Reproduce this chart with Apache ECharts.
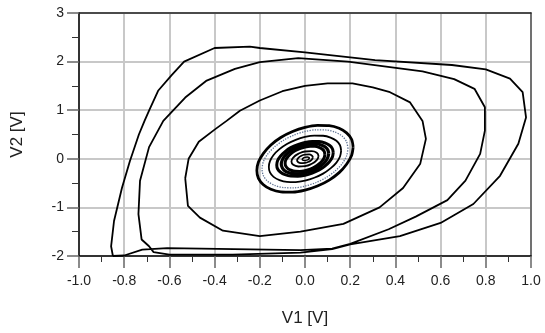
<!DOCTYPE html>
<html>
<head>
<meta charset="utf-8">
<script src="https://cdn.jsdelivr.net/npm/echarts@6/dist/echarts.min.js"></script>
<style>
  html,body{margin:0;padding:0;background:#fff;}
  #chart{width:545px;height:333px;}
</style>
</head>
<body>
<div id="chart"></div>
<script>
// tick labels
var xTicks = [-1.0,-0.8,-0.6,-0.4,-0.2,0.0,0.2,0.4,0.6,0.8,1.0]
var yTicks = [-2,-1,0,1,2,3]

// outer double loop
var outerLoop = [
  [-0.85,-2.0],[-0.858,-1.8],[-0.845,-1.28],[-0.81,-0.6],[-0.775,-0.05],[-0.735,0.5],
  [-0.71,0.78],[-0.69,0.99],[-0.65,1.4],[-0.59,1.72],[-0.535,2.0],[-0.4,2.28],
  [-0.244,2.31],[-0.2,2.28],[0.0,2.19],[0.31,2.03],[0.65,1.93],[0.8,1.84],
  [0.907,1.65],[0.963,1.37],[0.978,0.85],[0.944,0.31],[0.863,-0.35],[0.745,-0.93],
  [0.6,-1.32],[0.42,-1.59],[0.2,-1.76],[0.12,-1.86],[-0.02,-1.93],[-0.32,-1.97],
  [-0.6,-1.97],[-0.67,-1.92],[-0.69,-1.8],[-0.723,-1.66],[-0.737,-1.14],[-0.73,-0.45],
  [-0.69,0.24],[-0.627,0.78],[-0.53,1.26],[-0.435,1.61],[-0.31,1.85],[-0.2,1.99],
  [-0.03,2.07],[0.19,2.0],[0.52,1.8],[0.66,1.64],[0.75,1.44],[0.796,1.06],
  [0.796,0.58],[0.775,0.1],[0.71,-0.45],[0.63,-0.85],[0.49,-1.19],[0.37,-1.45],
  [0.2,-1.75],[0.12,-1.85],[-0.02,-1.88],[-0.17,-1.87],[-0.46,-1.85],[-0.61,-1.84],
  [-0.72,-1.87],[-0.8,-1.99],[-0.85,-2.0]
]

// third loop
var midLoop = [
  [-0.53,-0.4],[-0.515,0.0],[-0.47,0.35],[-0.4,0.6],[-0.347,0.78],[-0.288,0.99],
  [-0.2,1.2],[-0.1,1.39],[0.0,1.5],[0.1,1.55],[0.21,1.55],[0.3,1.47],[0.376,1.37],
  [0.465,1.16],[0.52,0.78],[0.535,0.41],[0.51,-0.1],[0.434,-0.6],[0.33,-1.0],
  [0.17,-1.34],[-0.02,-1.5],[-0.2,-1.59],[-0.363,-1.48],[-0.465,-1.21],[-0.518,-0.97],
  [-0.53,-0.4]
]

// inner rings
var ringA = [[0.213,0.243],[0.206,0.402],[0.184,0.533],[0.151,0.628],[0.107,0.681],[0.055,0.687],[0,0.646],[-0.055,0.561],[-0.107,0.438],[-0.151,0.285],[-0.184,0.112],[-0.206,-0.068],
  [-0.213,-0.243],[-0.206,-0.402],[-0.184,-0.533],[-0.151,-0.628],[-0.107,-0.681],[-0.055,-0.687],[0,-0.646],[0.055,-0.561],[0.107,-0.438],[0.151,-0.285],[0.184,-0.112],[0.206,0.068],[0.213,0.243]]
var ringDots = [[0.19,0.211],[0.184,0.349],[0.165,0.464],[0.134,0.547],[0.095,0.592],[0.049,0.597],[0,0.562],[-0.049,0.488],[-0.095,0.381],[-0.134,0.248],[-0.165,0.098],[-0.184,-0.059],
  [-0.19,-0.211],[-0.184,-0.349],[-0.165,-0.464],[-0.134,-0.547],[-0.095,-0.592],[-0.049,-0.597],[0,-0.562],[0.049,-0.488],[0.095,-0.381],[0.134,-0.248],[0.165,-0.098],[0.184,0.059],[0.19,0.211]]
var ringB = [[0.16,0.169],[0.155,0.279],[0.139,0.371],[0.113,0.437],[0.08,0.474],[0.041,0.478],[0,0.449],[-0.041,0.39],[-0.08,0.305],[-0.113,0.198],[-0.139,0.078],[-0.155,-0.047],
  [-0.16,-0.169],[-0.155,-0.279],[-0.139,-0.371],[-0.113,-0.437],[-0.08,-0.474],[-0.041,-0.478],[0,-0.449],[0.041,-0.39],[0.08,-0.305],[0.113,-0.198],[0.139,-0.078],[0.155,0.047],[0.16,0.169]]
var ringC = [[0.125,0.127],[0.121,0.21],[0.108,0.278],[0.088,0.327],[0.063,0.355],[0.032,0.358],[0,0.337],[-0.032,0.293],[-0.063,0.229],[-0.088,0.149],[-0.108,0.059],[-0.121,-0.035],
  [-0.125,-0.127],[-0.121,-0.21],[-0.108,-0.278],[-0.088,-0.327],[-0.063,-0.355],[-0.032,-0.358],[0,-0.337],[0.032,-0.293],[0.063,-0.229],[0.088,-0.149],[0.108,-0.059],[0.121,0.035],[0.125,0.127]]
var ringD = [[0.105,0.109],[0.101,0.181],[0.091,0.24],[0.074,0.281],[0.053,0.306],[0.027,0.308],[0,0.29],[-0.027,0.252],[-0.053,0.197],[-0.074,0.128],[-0.091,0.051],[-0.101,-0.03],
  [-0.105,-0.109],[-0.101,-0.181],[-0.091,-0.24],[-0.074,-0.281],[-0.053,-0.306],[-0.027,-0.308],[0,-0.29],[0.027,-0.252],[0.053,-0.197],[0.074,-0.128],[0.091,-0.051],[0.101,0.03],[0.105,0.109]]
var ringE = [[0.088,0.092],[0.085,0.152],[0.076,0.201],[0.062,0.236],[0.044,0.257],[0.023,0.259],[0,0.243],[-0.023,0.211],[-0.044,0.165],[-0.062,0.107],[-0.076,0.042],[-0.085,-0.025],
  [-0.088,-0.092],[-0.085,-0.152],[-0.076,-0.201],[-0.062,-0.236],[-0.044,-0.257],[-0.023,-0.259],[0,-0.243],[0.023,-0.211],[0.044,-0.165],[0.062,-0.107],[0.076,-0.042],[0.085,0.025],[0.088,0.092]]
var ringF = [[0.06,0.056],[0.052,0.124],[0.03,0.158],[0,0.15],[-0.03,0.102],[-0.052,0.026],[-0.06,-0.056],[-0.052,-0.124],[-0.03,-0.158],[0,-0.15],[0.03,-0.102],[0.052,-0.026],[0.06,0.056]]
var ringG = [[0.035,0.032],[0.03,0.07],[0.018,0.089],[0,0.084],[-0.018,0.057],[-0.03,0.015],[-0.035,-0.032],[-0.03,-0.07],[-0.018,-0.089],[0,-0.084],[0.018,-0.057],[0.03,-0.015],[0.035,0.032]]
var ringH = [[0.02,0.012],[0.017,0.027],[0.01,0.035],[0.003,0.033],[-0.005,0.022],[-0.01,0.006],[-0.012,-0.012],[-0.01,-0.027],[-0.003,-0.035],[0.003,-0.033],[0.012,-0.022],[0.017,-0.006],[0.02,0.012]]

var chart = echarts.init(document.getElementById('chart'))

function loop(data, smooth, width){
  return {type:'line', data:data, showSymbol:false, smooth:smooth, silent:true,
    lineStyle:{color:'#000', width:width}}
}

var font = 'Liberation Sans, Arial, sans-serif'
var gridLine = {show:true, lineStyle:{color:'#c8c8c8', width:2}}
var option = {
  animation:false,
  grid:{left:79, right:14, top:13, bottom:77},
  xAxis:[{
    type:'value', min:-1, max:1, interval:0.2,
    name:'V1 [V]', nameLocation:'middle', nameGap:54,
    nameTextStyle:{fontFamily:font, fontSize:17, color:'#222'},
    axisLine:{show:true, onZero:false, lineStyle:{color:'#000', width:1.5}},
    axisTick:{show:true, length:12, lineStyle:{color:'#666', width:1.5}},
    minorTick:{show:true, splitNumber:2, length:6, lineStyle:{color:'#333', width:1}},
    axisLabel:{margin:18, fontFamily:font, fontSize:14, color:'#222',
      formatter:function(v){ return v.toFixed(1) }},
    splitLine:gridLine
  },{
    type:'value', min:-1, max:1, position:'top',
    axisLine:{show:true, onZero:false, lineStyle:{color:'#222', width:1.5}},
    axisTick:{show:false}, axisLabel:{show:false}, splitLine:{show:false}
  }],
  yAxis:[{
    type:'value', min:-2, max:3, interval:1,
    name:'V2 [V]', nameLocation:'middle', nameGap:53, nameRotate:90,
    nameTextStyle:{fontFamily:font, fontSize:17, color:'#222'},
    axisLine:{show:true, onZero:false, lineStyle:{color:'#000', width:1.5}},
    axisTick:{show:true, length:12, lineStyle:{color:'#666', width:1.5}},
    minorTick:{show:true, splitNumber:2, length:7, lineStyle:{color:'#333', width:1}},
    axisLabel:{margin:15, fontFamily:font, fontSize:14, color:'#222'},
    splitLine:gridLine
  },{
    type:'value', min:-2, max:3, position:'right',
    axisLine:{show:true, onZero:false, lineStyle:{color:'#555', width:1.5}},
    axisTick:{show:false}, axisLabel:{show:false}, splitLine:{show:false}
  }],
  series:[
    loop(outerLoop, false, 1.8),
    loop(midLoop, false, 1.8),
    loop(ringA, 0.3, 2.8),
    {type:'line', data:ringDots, showSymbol:false, smooth:0.3, silent:true,
      lineStyle:{color:'#5f7394', width:1.3, type:'dotted'}},
    loop(ringB, 0.3, 1.8),
    loop(ringC, 0.3, 3),
    loop(ringD, 0.3, 3.2),
    loop(ringE, 0.3, 3),
    loop(ringF, 0.5, 1.8),
    loop(ringG, 0.5, 1.8),
    loop(ringH, 0.5, 1.5)
  ]
}
chart.setOption(option)
</script>
</body>
</html>
